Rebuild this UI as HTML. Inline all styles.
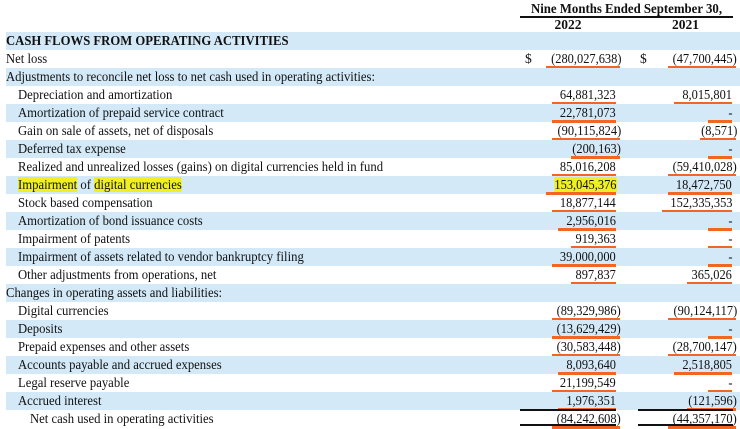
<!DOCTYPE html>
<html><head><meta charset="utf-8"><style>
body{margin:0;width:740px;height:426px;overflow:hidden;background:#fff;font-family:"Liberation Serif",serif;font-size:13.5px;color:#111;position:relative}
.a{position:absolute;white-space:nowrap}
.lab{transform:scaleX(0.94);transform-origin:left center}
.num{transform:scaleX(0.92);transform-origin:right center}
.row{position:absolute;left:6px;width:734px;height:18px}
.blue{background:#d3e9f8}
.hl{background:#f0f020}
.ob{position:absolute;height:3px;background:#f26522}
.line{position:absolute;height:1.5px;background:#111}
</style></head><body>
<div class="a" style="left:520px;top:1px;width:213px;text-align:center;font-weight:bold;transform:scaleX(0.95)">Nine Months Ended September 30,</div>
<div class="line" style="left:520px;top:16px;width:213px"></div>
<div class="a" style="left:520px;top:17px;width:96px;text-align:center;font-weight:bold">2022</div>
<div class="a" style="left:638px;top:17px;width:95px;text-align:center;font-weight:bold">2021</div>
<div class="line" style="left:520px;top:32px;width:96px"></div>
<div class="line" style="left:638px;top:32px;width:95px"></div>
<div id="t"></div>
<script>
const labels=["CASH FLOWS FROM OPERATING ACTIVITIES","Net loss","Adjustments to reconcile net loss to net cash used in operating activities:","Depreciation and amortization","Amortization of prepaid service contract","Gain on sale of assets, net of disposals","Deferred tax expense","Realized and unrealized losses (gains) on digital currencies held in fund","Impairment of digital currencies","Stock based compensation","Amortization of bond issuance costs","Impairment of patents","Impairment of assets related to vendor bankruptcy filing","Other adjustments from operations, net","Changes in operating assets and liabilities:","Digital currencies","Deposits","Prepaid expenses and other assets","Accounts payable and accrued expenses","Legal reserve payable","Accrued interest","Net cash used in operating activities"];
const indent=[0,0,0,1,1,1,1,1,1,1,1,1,1,1,0,1,1,1,1,1,1,2];
const v2022=["","(280,027,638)","","64,881,323","22,781,073","(90,115,824)","(200,163)","85,016,208","153,045,376","18,877,144","2,956,016","919,363","39,000,000","897,837","","(89,329,986)","(13,629,429)","(30,583,448)","8,093,640","21,199,549","1,976,351","(84,242,608)"];
const v2021=["","(47,700,445)","","8,015,801","-","(8,571)","-","(59,410,028)","18,472,750","152,335,353","-","-","-","365,026","","(90,124,117)","-","(28,700,147)","2,518,805","-","(121,596)","(44,357,170)"];
const t=document.getElementById('t');
function num(s,right,top,name,hl){
  if(!s)return;
  const neg=s[0]==='(';
  const txt=neg?s.slice(1,-1):s;
  const d=document.createElement('div');
  
  
  d.className='a num';
  d.style.right=(740-right-(neg?5:0))+'px';d.style.top=top+'px';
  d.innerHTML=(neg?'(':'')+(hl?'<span class="hl">'+txt+'</span>':txt)+(neg?')':'');
  t.appendChild(d);
  const w=Math.max(24,txt.length*6.4+(neg?4:0));
  const u=document.createElement('div');
  
  
  u.className='ob';
  u.style.left=(right-w+(neg?4:0))+'px';u.style.width=w+'px';u.style.top=(top+15)+'px';
  t.appendChild(u);
}
labels.forEach((l,i)=>{
  const y=32+i*18;
  const r=document.createElement('div');
  
  
  r.className='row'+(i%2===0?' blue':'');
  r.style.top=y+'px';
  t.appendChild(r);
  const d=document.createElement('div');
  
  
  d.className='a lab';
  d.style.left=(6+indent[i]*12)+'px';d.style.top=(y+1)+'px';
  if(i===0)d.style.fontWeight='bold';
  if(i===8)d.innerHTML='<span class="hl">Impairment</span> of <span class="hl">digital currencies</span>';
  else d.textContent=l;
  t.appendChild(d);
  num(v2022[i],616,y+1,'value-2022',i===8);
  num(v2021[i],732,y+1,'value-2021',false);
});
[[525,'dollar-2022'],[640,'dollar-2021']].forEach(([x,n])=>{
  const d=document.createElement('div');
  
  
  d.className='a';d.style.left=x+'px';d.style.top='51px';d.textContent='$';t.appendChild(d);
});
[[520,96],[638,95]].forEach(([x,w])=>{
  [409,424].forEach(y=>{
    const l=document.createElement('div');
    
    
    l.className='line';l.style.left=x+'px';l.style.width=w+'px';l.style.top=y+'px';t.appendChild(l);
  });
});
</script>
</body></html>
